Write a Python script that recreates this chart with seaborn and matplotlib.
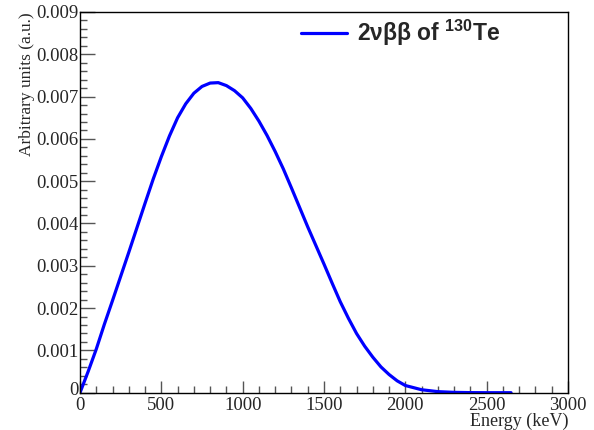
import matplotlib
matplotlib.use("Agg")
import matplotlib.pyplot as plt
import matplotlib.transforms as mtransforms
import seaborn as sns
import pandas as pd
from matplotlib.ticker import MultipleLocator, FixedLocator
from matplotlib.lines import Line2D

# Data
energy_kev = [0, 50, 100, 150, 200, 250, 300, 350, 400, 450, 500, 550, 600, 650,
              700, 750, 800, 850, 900, 950, 1000, 1050, 1100, 1150, 1200, 1250,
              1300, 1350, 1400, 1450, 1500, 1550, 1600, 1650, 1700, 1750, 1800,
              1850, 1900, 1950, 2000, 2100, 2200, 2300, 2400, 2500, 2650]
intensity = [0.0, 0.00050, 0.00103, 0.00162, 0.00218, 0.00275, 0.00332, 0.00390,
             0.00448, 0.00505, 0.00558, 0.00607, 0.00650, 0.00683, 0.00708,
             0.00724, 0.00732, 0.00733, 0.00726, 0.00714, 0.00697, 0.00672,
             0.00642, 0.00608, 0.00570, 0.00529, 0.00484, 0.00438, 0.00392,
             0.00348, 0.00304, 0.00259, 0.00215, 0.00176, 0.00140, 0.00110,
             0.00084, 0.00061, 0.00043, 0.00028, 0.00017, 0.00007, 0.000025,
             0.000008, 0.000002, 0.0, 0.0]
legend_label = r"2νββ of $^{\mathbf{130}}$Te"
x_ticks = [0, 500, 1000, 1500, 2000, 2500, 3000]
y_ticks = [0, 0.001, 0.002, 0.003, 0.004, 0.005, 0.006, 0.007, 0.008, 0.009]
y_tick_labels = ["0", "0.001", "0.002", "0.003", "0.004", "0.005", "0.006",
                 "0.007", "0.008", "0.009"]

sns.set_theme(style="ticks")
plt.rcParams["font.family"] = ["Liberation Serif", "DejaVu Serif"]
plt.rcParams["mathtext.fontset"] = "custom"
plt.rcParams["mathtext.bf"] = "Liberation Sans:bold"
plt.rcParams["mathtext.rm"] = "Liberation Sans:bold"

df = pd.DataFrame({"Energy": energy_kev, "Intensity": intensity,
                   "label": [legend_label] * len(energy_kev)})

fig = plt.figure(figsize=(5.94, 4.30), dpi=100)
ax = fig.add_axes([80 / 594, 1 - 392.7 / 430, 488 / 594, (392.7 - 12) / 430])

sns.lineplot(data=df, x="Energy", y="Intensity", hue="label",
             palette=["#0000ff"], linewidth=2.3, ax=ax, legend=False)

ax.set_xlim(0, 3000)
ax.set_ylim(0, 0.009)
ax.xaxis.set_major_locator(FixedLocator(x_ticks))
ax.xaxis.set_minor_locator(MultipleLocator(100))
ax.yaxis.set_major_locator(FixedLocator(y_ticks))
ax.yaxis.set_minor_locator(MultipleLocator(0.0002))
ax.set_yticklabels(y_tick_labels)
ax.set_xticklabels([str(v) for v in x_ticks])

ax.tick_params(axis="both", which="both", direction="in", color="#555555",
               top=False, right=False, labelsize=13.5)
ax.tick_params(axis="y", which="major", length=11, width=1, pad=1)
ax.tick_params(axis="y", which="minor", length=5, width=1)
ax.tick_params(axis="x", which="major", length=8.6, width=1, pad=3)
ax.tick_params(axis="x", which="minor", length=5, width=1)
for sp in ax.spines.values():
    sp.set_visible(True)
    sp.set_color("black")
    sp.set_linewidth(1.0)

# nudge the y "0" label up a little so it does not collide with the x "0"
ylab0 = ax.get_yticklabels()[0]
ylab0.set_transform(ylab0.get_transform() +
                    mtransforms.ScaledTranslation(0, 3 / 72, fig.dpi_scale_trans))

ax.set_xlabel("")
ax.set_ylabel("")
fig.text(568 / 594, 1 - 429.5 / 430, "Energy (keV)", ha="right", va="bottom",
         fontsize=13)
fig.text(27 / 594, 1 - 12 / 430, "Arbitrary units (a.u.)", ha="center",
         va="top", rotation=90, fontsize=12.5)

# legend (no frame, ROOT-style)
handle = Line2D([], [], color="#0000ff", linewidth=2.3)
leg = ax.legend([handle], [legend_label], loc="center left",
                bbox_to_anchor=((301 - 80) / 488, (392.7 - 33) / 380.7),
                frameon=False, borderpad=0, borderaxespad=0,
                handlelength=2.0, handletextpad=0.45,
                prop={"family": "Liberation Sans", "weight": "bold",
                      "size": 16.5})

fig.savefig("out.png", dpi=100)
